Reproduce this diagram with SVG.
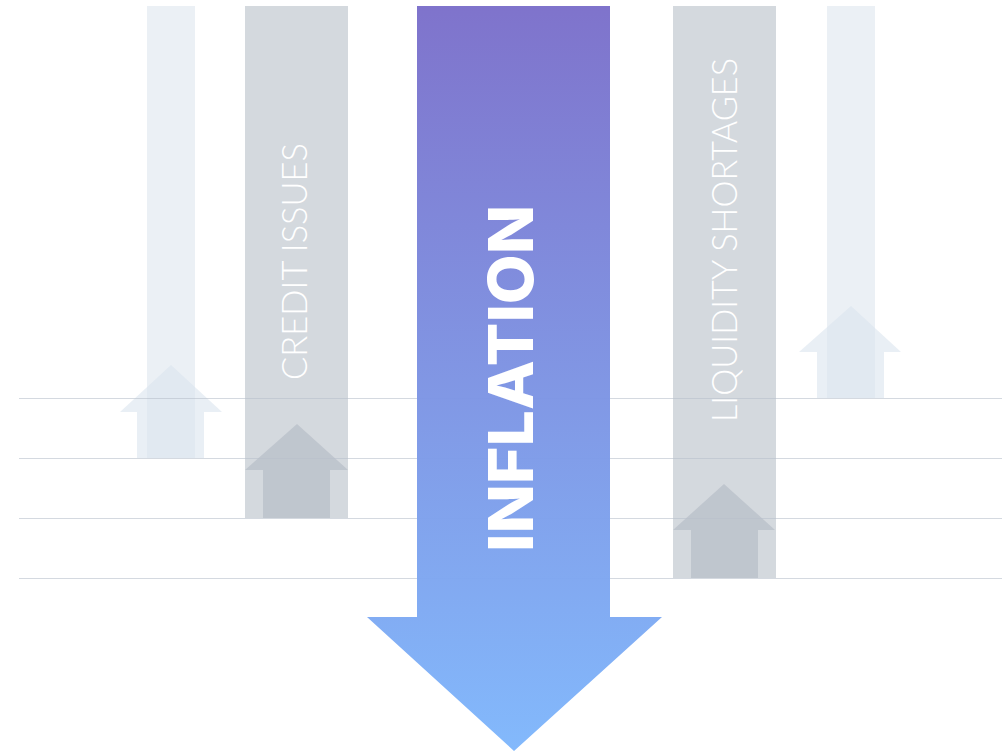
<svg xmlns="http://www.w3.org/2000/svg" width="1002" height="755" viewBox="0 0 1002 755">
  <defs>
    <linearGradient id="infl" x1="0" y1="0" x2="0" y2="1">
      <stop offset="0" stop-color="#7b6fca"/>
      <stop offset="1" stop-color="#7fb7fc"/>
    </linearGradient>
    <style>
      .lightbar{fill:#ebf0f5}
      .lightarrow{fill:#dbe4ee;opacity:0.6}
      .graybar{fill:#d4d9de}
      .grayarrow{fill:#b6bdc8;opacity:0.7}
      .grid{stroke:#b9c1cc;stroke-width:1.2;opacity:0.6}
      .thin{font-family:Lato,"Liberation Sans",sans-serif;font-weight:300;fill:#ffffff}
      .bold{font-family:Inter,"Liberation Sans",sans-serif;font-weight:800;fill:#ffffff}
    </style>
  </defs>
  <rect width="1002" height="755" fill="#ffffff"/>

  <g id="bar-far-left">
    <rect class="lightbar" x="147" y="6" width="48" height="452"/>
    <polygon class="lightarrow" points="171,365 222,412 204,412 204,458 137,458 137,412 120,412"/>
  </g>

  <g id="bar-credit-issues">
    <rect class="graybar" x="245" y="6" width="103" height="512"/>
    <polygon class="grayarrow" points="297,424 348,470 330,470 330,518 263,518 263,470 245,470"/>
    <text class="thin" transform="translate(307,380) rotate(-90)" x="0" y="0" font-size="36" textLength="237" lengthAdjust="spacingAndGlyphs">CREDIT ISSUES</text>
  </g>

  <g id="bar-liquidity-shortages">
    <rect class="graybar" x="673" y="6" width="103" height="572"/>
    <polygon class="grayarrow" points="724,484 775,530 758,530 758,578 691,578 691,530 673,530"/>
    <text class="thin" transform="translate(737,422) rotate(-90)" x="0" y="0" font-size="35" textLength="364" lengthAdjust="spacingAndGlyphs">LIQUIDITY SHORTAGES</text>
  </g>

  <g id="bar-far-right">
    <rect class="lightbar" x="827" y="6" width="48" height="392"/>
    <polygon class="lightarrow" points="851,306 901,352 884,352 884,398 817,398 817,352 799,352"/>
  </g>

  <g id="connectors">
    <line class="grid" x1="19" y1="398.5" x2="1002" y2="398.5"/>
    <line class="grid" x1="19" y1="458.5" x2="1002" y2="458.5"/>
    <line class="grid" x1="19" y1="518.5" x2="1002" y2="518.5"/>
    <line class="grid" x1="19" y1="578.5" x2="1002" y2="578.5"/>
  </g>

  <g id="inflation">
    <polygon fill="url(#infl)" opacity="0.97" points="417,6 610,6 610,617 662,617 514,751 367,617 417,617"/>
    <text class="bold" transform="translate(533,552) rotate(-90)" x="0" y="0" font-size="62" textLength="347" lengthAdjust="spacingAndGlyphs">INFLATION</text>
  </g>
</svg>
